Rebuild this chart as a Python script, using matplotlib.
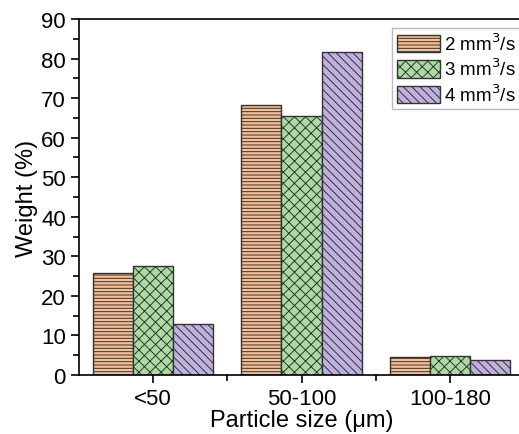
import matplotlib
matplotlib.use('Agg')
import matplotlib.pyplot as plt
import numpy as np
from matplotlib.ticker import MultipleLocator, FixedLocator

plt.rcParams['font.family'] = ['Liberation Sans', 'DejaVu Sans']
plt.rcParams['hatch.linewidth'] = 0.7
plt.rcParams['hatch.color'] = '#333333'

# data
categories = ['<50', '50-100', '100-180']
labels = ['2 mm$^3$/s', '3 mm$^3$/s', '4 mm$^3$/s']
w2 = [25.7, 68.3, 4.5]
w3 = [27.5, 65.5, 4.9]
w4 = [12.8, 81.7, 3.8]

series = [w2, w3, w4]
colors = ['#f7bf95', '#aadca2', '#bfb0de']
hatches = ['-----', 'xxx', '\\\\\\\\']

fig = plt.figure(figsize=(5.19, 4.35), dpi=100)
# axes runs a little past the right border, like the cropped original
ax = fig.add_axes([79 / 519, 1 - 376 / 435, 445 / 519, 356 / 435])

x = np.arange(1, len(categories) + 1)
bw = 0.27
for i, (vals, c, h, lab) in enumerate(zip(series, colors, hatches, labels)):
    ax.bar(x + (i - 1) * bw, vals, width=bw, color=c, edgecolor='#333333',
           hatch=h, linewidth=1.0, label=lab)

ax.set_xlim(0.5, 3.5)
ax.set_ylim(0, 90)
ax.set_xticks(x)
ax.set_xticklabels(categories)
ax.xaxis.set_minor_locator(FixedLocator([1.5, 2.5]))
ax.yaxis.set_major_locator(MultipleLocator(10))
ax.yaxis.set_minor_locator(MultipleLocator(5))
ax.tick_params(which='both', direction='out', labelsize=16, width=1.2)
ax.tick_params(which='major', length=6)
ax.tick_params(which='minor', length=4)
for s in ax.spines.values():
    s.set_linewidth(1.2)
ax.spines['right'].set_visible(False)

ax.set_ylabel('Weight (%)', fontsize=17, labelpad=2)
ax.set_xlabel('Particle size (μm)', fontsize=17, labelpad=0)

leg = ax.legend(loc='upper left', bbox_to_anchor=(392 / 519, 1 - 29 / 435),
                bbox_transform=fig.transFigure, fontsize=13.5,
                frameon=True, fancybox=False, edgecolor='#aaaaaa',
                handlelength=2.3, handleheight=1.05, borderpad=0.25,
                labelspacing=0.2, handletextpad=0.25, borderaxespad=0)
leg.get_frame().set_linewidth(1.0)

fig.savefig('out.png', dpi=100)
